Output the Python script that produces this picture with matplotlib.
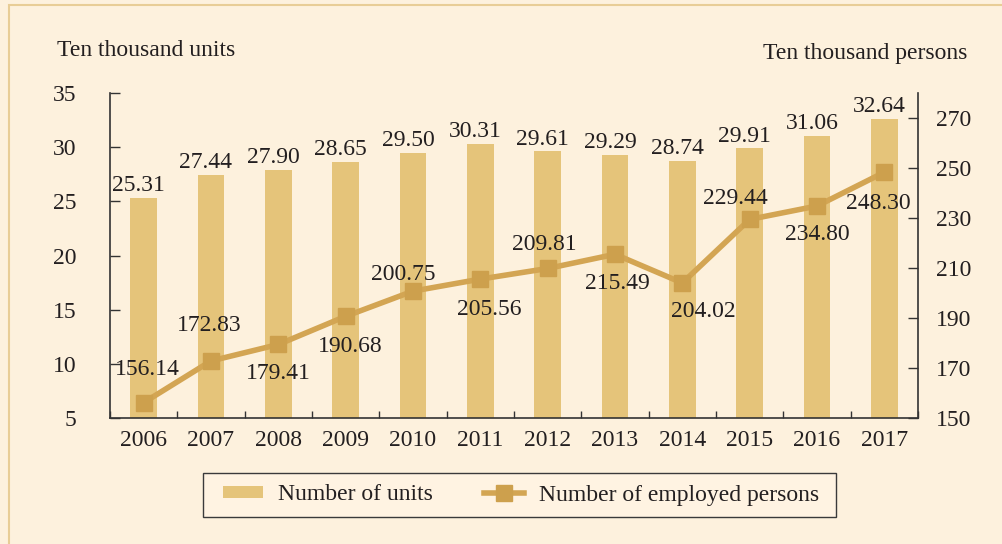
import matplotlib
matplotlib.use("Agg")
import matplotlib.pyplot as plt
from matplotlib.patches import Rectangle
from matplotlib.ticker import FixedLocator

years = ["2006", "2007", "2008", "2009", "2010", "2011",
         "2012", "2013", "2014", "2015", "2016", "2017"]
units = [25.31, 27.44, 27.90, 28.65, 29.50, 30.31,
         29.61, 29.29, 28.74, 29.91, 31.06, 32.64]
persons = [156.14, 172.83, 179.41, 190.68, 200.75, 205.56,
           209.81, 215.49, 204.02, 229.44, 234.80, 248.30]

# label offsets for the line values (pixels, x right / y up)
person_offsets = [(4, 33), (-2, 35), (0, -29), (5, -30), (-10, 17), (9, -30),
                  (-3, 24), (2, -29), (21, -29), (-14, 21), (0, -28), (-6, -31)]

bg = "#fdf1dd"
bar_col = "#e5c47a"
line_col = "#d3a553"
mark_col = "#cda04d"
txt_col = "#231f20"

plt.rcParams["font.family"] = ["Liberation Serif", "DejaVu Serif"]
plt.rcParams["font.size"] = 17

W, H = 1003, 544
fig = plt.figure(figsize=(W / 100, H / 100), dpi=100, facecolor=bg)
# outer frame
fig.patches.append(Rectangle((9 / W, -0.1), 1.2, 1.1 - 5 / H,
                             transform=fig.transFigure, fill=False,
                             edgecolor="#e8cd96", linewidth=1.5))

ax = fig.add_axes([110 / W, 1 - 418 / H, (918 - 110) / W, (418 - 93) / H])
ax.set_facecolor("none")
x = list(range(len(years)))
ax.bar(x, units, width=0.4, color=bar_col, zorder=2, label="Number of units")
ax.set_xlim(-0.5, 11.5)
ax.set_ylim(5, 35)
ax.set_yticks([5, 10, 15, 20, 25, 30, 35])
ax.set_xticks(x)
ax.set_xticklabels(years)
ax.xaxis.set_minor_locator(FixedLocator([i - 0.5 for i in range(13)]))
ax.tick_params(axis="x", which="major", length=0, pad=9, colors=txt_col)
ax.tick_params(axis="x", which="minor", direction="in", length=5, width=1, color="#333333")
ax.tick_params(axis="y", direction="in", length=7, width=1, pad=24, color="#333333",
               labelcolor=txt_col)
for s in ["top", "right"]:
    ax.spines[s].set_visible(False)
for s in ["left", "bottom"]:
    ax.spines[s].set_color("#333333")
    ax.spines[s].set_linewidth(1.2)

for xi, v in zip(x, units):
    ax.annotate(f"{v:.2f}", (xi, v), xytext=(-5, 12), textcoords="offset pixels",
                ha="center", va="center", color=txt_col, zorder=3)

ax2 = ax.twinx()
ax2.plot(x, persons, color=line_col, linewidth=4, marker="s", markersize=11,
         markerfacecolor=mark_col, markeredgecolor=mark_col, zorder=4,
         label="Number of employed persons")
ax2.set_ylim(150, 280)
ax2.set_yticks([150, 170, 190, 210, 230, 250, 270])
ax2.tick_params(axis="y", direction="in", length=7, width=1, pad=13, color="#333333",
                labelcolor=txt_col)
for s in ["top", "left", "bottom"]:
    ax2.spines[s].set_visible(False)
ax2.spines["right"].set_color("#333333")
ax2.spines["right"].set_linewidth(1.2)

for xi, v, (dx, dy) in zip(x, persons, person_offsets):
    ax2.annotate(f"{v:.2f}", (xi, v), xytext=(dx, dy), textcoords="offset pixels",
                 ha="center", va="center", color=txt_col, zorder=5)

fig.text(57 / W, 1 - 56 / H, "Ten thousand units", ha="left", va="baseline",
         color=txt_col)
fig.text(967 / W, 1 - 59 / H, "Ten thousand persons", ha="right", va="baseline",
         color=txt_col)

# legend box drawn separately so the padding matches
fig.patches.append(Rectangle((203 / W, 1 - 517 / H), (836 - 203) / W, 44 / H,
                             transform=fig.transFigure, facecolor="#fff3e2",
                             edgecolor="#3a3a3a", linewidth=1.0, zorder=1))
h1, l1 = ax.get_legend_handles_labels()
h2, l2 = ax2.get_legend_handles_labels()
leg = fig.legend(h1 + h2, l1 + l2, loc="center", ncol=2,
                 bbox_to_anchor=(521 / W, 1 - 495 / H),
                 frameon=False, handlelength=1.7, handleheight=0.45,
                 handletextpad=0.6, columnspacing=2.2)
for t in leg.get_texts():
    t.set_color(txt_col)

fig.savefig("out.png", dpi=100, facecolor=bg)
